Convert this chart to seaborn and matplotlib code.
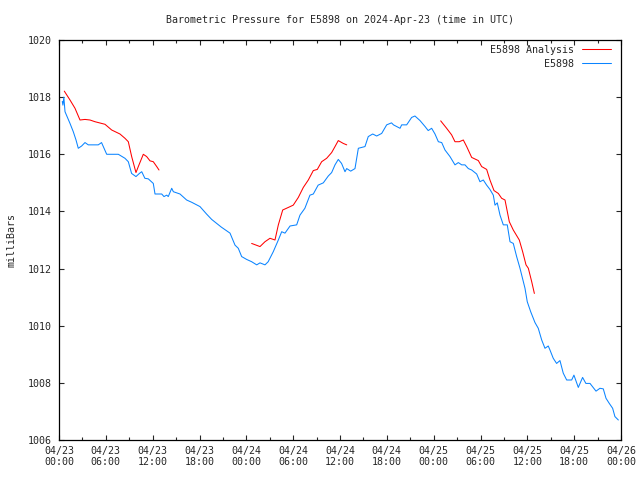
import matplotlib
matplotlib.use("Agg")
import matplotlib.pyplot as plt
import numpy as np
import pandas as pd
import seaborn as sns
from matplotlib.ticker import MultipleLocator

# station observations, hours since 2024-04-23 00:00 UTC
obs_hours = [0.42, 0.5, 0.62, 0.77, 1.41, 1.83, 2.18, 2.47, 2.9, 3.33, 3.75, 5.03, 5.45, 6.11, 7.6,
             8.45, 8.88, 9.3, 9.86, 10.3, 10.6, 11.0, 11.44, 12.08, 12.3, 13.16, 13.45, 13.8, 14.0,
             14.44, 14.65, 15.5, 16.35, 17.0, 18.06, 18.9, 19.56, 20.8, 21.91, 22.55, 22.97, 23.4,
             24.04, 24.68, 25.33, 25.75, 26.39, 26.8, 27.45, 28.1, 28.53, 28.95, 29.6, 30.45, 30.87,
             31.5, 32.15, 32.58, 33.2, 33.86, 34.5, 34.93, 35.36, 35.78, 36.2, 36.64, 36.86, 37.37,
             37.92, 38.35, 39.2, 39.62, 40.19, 40.7, 41.34, 41.98, 42.6, 42.85, 43.69, 43.9, 44.54,
             45.18, 45.6, 46.25, 46.9, 47.3, 47.74, 48.17, 48.6, 49.03, 49.45, 50.09, 50.73, 51.16,
             51.59, 52.01, 52.44, 52.87, 53.51, 53.93, 54.36, 54.79, 55.21, 55.64, 55.86, 56.15,
             56.5, 56.92, 57.43, 57.78, 58.2, 58.63, 59.06, 59.7, 59.99, 60.43, 60.98, 61.4, 61.84,
             62.26, 62.68, 62.9, 63.32, 63.75, 64.18, 64.6, 65.04, 65.68, 65.97, 66.53, 67.08,
             67.5, 68.03, 68.8, 69.3, 69.73, 70.08, 70.5, 70.93, 71.22, 71.66]
obs_mb = [1017.85, 1017.72, 1018.0, 1017.49, 1017.08, 1016.79, 1016.5, 1016.21, 1016.29, 1016.41,
          1016.33, 1016.33, 1016.41, 1016.0, 1016.0, 1015.86, 1015.74, 1015.33, 1015.22, 1015.33,
          1015.39, 1015.16, 1015.14, 1014.98, 1014.61, 1014.61, 1014.52, 1014.57, 1014.52, 1014.81,
          1014.69, 1014.61, 1014.4, 1014.32, 1014.17, 1013.91, 1013.72, 1013.45, 1013.24, 1012.82,
          1012.71, 1012.42, 1012.32, 1012.24, 1012.13, 1012.2, 1012.13, 1012.24, 1012.59, 1013.0,
          1013.29, 1013.24, 1013.49, 1013.53, 1013.87, 1014.11, 1014.57, 1014.61, 1014.92, 1015.0,
          1015.24, 1015.36, 1015.63, 1015.82, 1015.68, 1015.39, 1015.5, 1015.41, 1015.5, 1016.21,
          1016.27, 1016.62, 1016.71, 1016.64, 1016.73, 1017.03, 1017.1, 1017.03, 1016.91, 1017.03,
          1017.03, 1017.29, 1017.34, 1017.18, 1016.97, 1016.83, 1016.91, 1016.71, 1016.44, 1016.41,
          1016.15, 1015.92, 1015.63, 1015.71, 1015.63, 1015.63, 1015.5, 1015.45, 1015.31, 1015.04,
          1015.1, 1014.92, 1014.77, 1014.57, 1014.22, 1014.3, 1013.87, 1013.53, 1013.53, 1012.94,
          1012.88, 1012.42, 1012.01, 1011.31, 1010.84, 1010.49, 1010.11, 1009.91, 1009.5, 1009.21,
          1009.29, 1009.15, 1008.86, 1008.68, 1008.78, 1008.34, 1008.1, 1008.1, 1008.27, 1007.84,
          1008.19, 1007.98, 1007.98, 1007.71, 1007.81, 1007.79, 1007.46, 1007.28, 1007.11, 1006.82,
          1006.7]

# analysis runs (three separate pieces)
ana_hours = [0.68, 1.41, 2.05, 2.69, 3.33, 3.97, 4.61, 5.89, 6.75, 7.81, 8.45, 8.88, 9.31, 9.86,
             10.16, 10.8, 11.23, 11.66, 12.08, 12.52, 12.81,
             24.68, 25.75, 26.39, 27.03, 27.67, 28.1, 28.66, 29.38, 30.01, 30.66, 31.3, 31.94,
             32.58, 33.09, 33.65, 34.29, 34.93, 35.36, 35.78, 36.42, 36.86,
             48.9, 49.66, 50.3, 50.73, 51.28, 51.8, 52.23, 52.87, 53.72, 54.15, 54.79, 55.21,
             55.73, 56.28, 56.71, 57.14, 57.69, 58.2, 58.97, 59.4, 59.83, 60.13, 60.56, 60.9]
ana_mb = [1018.21, 1017.9, 1017.61, 1017.2, 1017.22, 1017.2, 1017.14, 1017.05, 1016.85, 1016.71,
          1016.56, 1016.44, 1015.92, 1015.36, 1015.57, 1016.0, 1015.92, 1015.77, 1015.74, 1015.57,
          1015.45,
          1012.88, 1012.77, 1012.94, 1013.06, 1013.0, 1013.53, 1014.05, 1014.14, 1014.22, 1014.49,
          1014.84, 1015.1, 1015.43, 1015.47, 1015.74, 1015.86, 1016.06, 1016.27, 1016.48, 1016.38,
          1016.33,
          1017.17, 1016.91, 1016.68, 1016.44, 1016.44, 1016.5, 1016.27, 1015.89, 1015.78, 1015.57,
          1015.47, 1015.1, 1014.73, 1014.63, 1014.46, 1014.4, 1013.64, 1013.35, 1013.0, 1012.59,
          1012.13, 1012.01, 1011.54, 1011.13]
ana_run = [1] * 21 + [2] * 21 + [3] * 24

tick_hours = list(range(0, 73, 6))
tick_labels = ["04/23\n00:00", "04/23\n06:00", "04/23\n12:00", "04/23\n18:00",
               "04/24\n00:00", "04/24\n06:00", "04/24\n12:00", "04/24\n18:00",
               "04/25\n00:00", "04/25\n06:00", "04/25\n12:00", "04/25\n18:00",
               "04/26\n00:00"]

obs = pd.DataFrame({"hour": obs_hours, "mb": obs_mb})
ana = pd.DataFrame({"hour": ana_hours, "mb": ana_mb, "run": ana_run})

sns.set_style("ticks")
plt.rcParams["font.family"] = ["DejaVu Sans Mono"]
fs = 7.2
lw = 0.75

fig = plt.figure(figsize=(6.4, 4.8), dpi=100)
ax = fig.add_axes([59 / 640, 40 / 480, 562 / 640, 400 / 480])

sns.lineplot(data=ana, x="hour", y="mb", units="run", estimator=None, color="#ff0000",
             linewidth=lw, ax=ax)
sns.lineplot(data=obs, x="hour", y="mb", color="#0a84ff", linewidth=lw, ax=ax)

ax.set_xlim(0, 72)
ax.set_ylim(1006, 1020)
ax.set_xticks(tick_hours)
ax.set_xticklabels(tick_labels, fontsize=fs)
ax.xaxis.set_minor_locator(MultipleLocator(3))
ax.set_yticks(np.arange(1006, 1021, 2))
ax.tick_params(axis="y", labelsize=fs, pad=5)
ax.tick_params(axis="x", pad=4)
ax.tick_params(which="major", direction="in", length=3.8, width=0.8, top=True, right=True)
ax.tick_params(which="minor", direction="in", length=2, width=0.8, top=True)
for sp in ax.spines.values():
    sp.set_linewidth(0.9)
    sp.set_color("black")

ax.set_xlabel("")
ax.set_ylabel("milliBars", fontsize=fs, labelpad=8)
ax.set_title("Barometric Pressure for E5898 on 2024-Apr-23 (time in UTC)", fontsize=fs, pad=12)

h_ana = plt.Line2D([], [], color="#ff0000", linewidth=lw)
h_obs = plt.Line2D([], [], color="#0a84ff", linewidth=lw)
ax.legend([h_ana, h_obs], ["E5898 Analysis", "E5898"], loc="upper right",
          bbox_to_anchor=(0.983, 0.988), frameon=False, markerfirst=False, fontsize=fs,
          handlelength=2.9, handletextpad=0.8, labelspacing=0.4, borderpad=0,
          borderaxespad=0)

fig.savefig("out.png", dpi=100)
